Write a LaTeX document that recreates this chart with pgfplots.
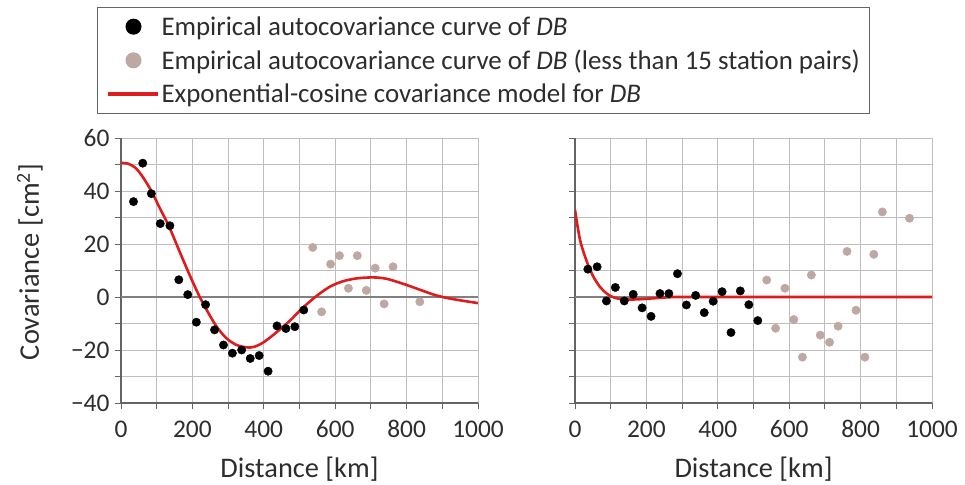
\documentclass[border=0pt]{standalone}
\usepackage{fontspec}
\setmainfont{Carlito}
\usepackage{pgfplots}
\pgfplotsset{compat=1.18}
\definecolor{myred}{RGB}{222,28,28}
\definecolor{mygrey}{RGB}{190,168,163}
\definecolor{gridc}{RGB}{190,190,190}
\definecolor{axc}{RGB}{100,100,100}
\definecolor{txt}{RGB}{45,45,45}
\pgfplotsset{
 myaxis/.style={
  scale only axis, width=357bp, height=265bp,
  xmin=0,xmax=1000,ymin=-40,ymax=60,
  axis x line*=bottom, axis y line*=left,
  xtick={0,100,...,1000}, xticklabels={0,,200,,400,,600,,800,,1000},
  ytick={-40,-30,...,60},
  grid=major, grid style={gridc, line width=0.9bp},
  tick align=outside, major tick length=6bp,
  tick style={axc, line width=0.9bp},
  axis line style={axc, line width=1.1bp},
  ticklabel style={font=\fontsize{25.5}{28}\selectfont, text=txt},
  xticklabel style={yshift=-8bp},
  yticklabel style={xshift=-2bp},
  label style={font=\fontsize{28.5}{32}\selectfont, text=txt},
  xlabel={Distance [km]},
  xlabel style={at={(axis description cs:0.5,-0.283)}, anchor=base},
 },
 mklegend/.style={legend image code/.code={\draw[mark repeat=2,mark phase=2,##1, mark size=7.5bp] plot coordinates {(0bp,0bp) (26bp,0bp) (50bp,0bp)};}},
 lnlegend/.style={legend image code/.code={\draw[##1, line width=4bp] (0bp,0bp) -- (50bp,0bp);}},
 blk/.style={only marks, mark=*, mark size=4.2bp, mark options={fill=black, draw=black}, mklegend},
 gry/.style={only marks, mark=*, mark size=4.2bp, mark options={fill=mygrey, draw=mygrey}, mklegend},
 rline/.style={myred, line width=2.6bp, smooth, no marks, lnlegend},
}
\begin{document}
\begin{tikzpicture}
\path[use as bounding box] (0,0) rectangle (965bp,485bp);
\begin{axis}[myaxis, at={(121bp,82bp)}, anchor=south west,
  yticklabels={−40,,−20,,0,,20,,40,,60},
  ylabel={Covariance [cm\textsuperscript{2}]},
  ylabel style={at={(axis description cs:-0.255,0.532)}, anchor=center, rotate=0},
  legend cell align=left,
  legend style={at={(axis description cs:-0.0672,1.494)}, anchor=north west,
    draw=axc, line width=1bp, fill=white, font=\fontsize{27}{30}\selectfont,
    text=txt, inner xsep=8bp, inner ysep=7bp, row sep=9bp},
]
\addplot[gray, line width=1.6bp, forget plot] coordinates {(0,0) (1000,0)};
\addplot[blk] coordinates {
(35,36) (61,50.5) (85,39) (110,27.7) (137,26.9) (162,6.5) (187,0.9) (211,-9.5) (237,-2.9) (262,-12.4) (287,-18.1) (312,-21.2) (338,-20) (362,-23.2) (387,-22.1) (412,-28) (437,-10.9) (462,-11.9) (487,-11.2) (512,-4.9)
};
\addlegendentry{Empirical autocovariance curve of \textit{DB}}
\addplot[gry] coordinates {
(537,18.7) (562,-5.6) (587,12.4) (612,15.6) (637,3.3) (662,15.6) (687,2.5) (712,10.9) (737,-2.6) (762,11.4) (837,-1.8)
};
\addlegendentry{Empirical autocovariance curve of \textit{DB} (less than 15 station pairs)}
\addplot[rline] coordinates {
(0,50.6) (20,50.3) (40,48.8) (60,45.5) (85,40) (107,34) (135,26.5) (163,17.5) (190,9) (217,1) (238,-4.4) (266,-10.8) (294,-15.4) (322,-18) (350,-19) (370,-18.9) (397,-17.3) (434,-13.5) (471,-9.2) (509,-4.1) (546,0.2) (584,3.8) (621,5.9) (659,7) (705,7.4) (743,6.9) (790,5) (836,2.8) (883,0.6) (930,-0.8) (1000,-2.3)
};
\addlegendentry{Exponential-cosine covariance model for \textit{DB}}
\end{axis}
\begin{axis}[myaxis, at={(575bp,82bp)}, anchor=south west, yticklabels={}]
\addplot[gray, line width=1.6bp] coordinates {(0,0) (1000,0)};
\addplot[blk] coordinates {
(36,10.5) (62,11.4) (88,-1.5) (113,3.6) (138,-1.5) (163,1) (188,-4.1) (213,-7.3) (238,1.3) (263,1.3) (287,8.8) (312,-3) (338,0.6) (362,-5.9) (387,-1.6) (412,2) (437,-13.4) (463,2.3) (487,-2.9) (512,-8.9)
};
\addplot[gry] coordinates {
(537,6.4) (562,-11.8) (588,3.3) (613,-8.5) (637,-22.7) (662,8.3) (687,-14.4) (713,-17.1) (737,-11) (762,17.2) (787,-5) (812,-22.7) (837,16.1) (861,32.1) (937,29.7)
};
\addplot[rline] coordinates {
(0,32.9) (14,21.6) (33,13.4) (51,7.8) (70,3.8) (89,1.3) (107,-0.1) (135,-0.9) (173,-0.9) (219,-0.5) (266,-0.1) (320,0) (1000,0)
};
\end{axis}
\end{tikzpicture}
\end{document}
